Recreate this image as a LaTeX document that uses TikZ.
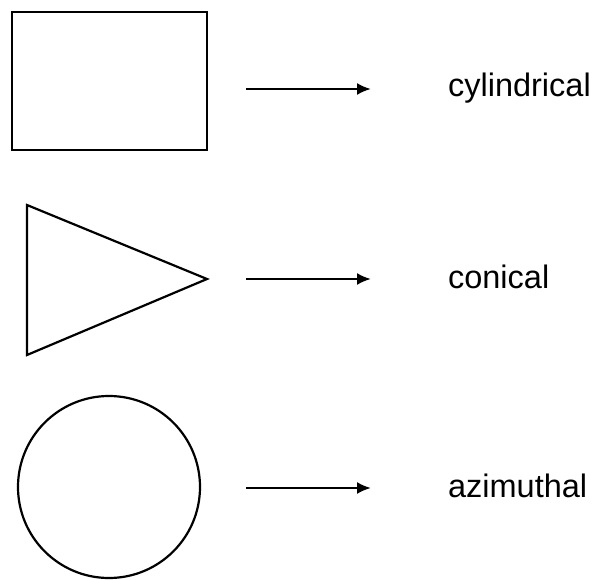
\documentclass[tikz,border=0pt]{standalone}
\usepackage{fontspec}
\setmainfont{Liberation Sans}
\usetikzlibrary{arrows.meta}
\begin{document}
\begin{tikzpicture}[x=1pt,y=-1pt,line width=2.2pt,>={Latex[length=14pt,width=12pt]}]
\tikzset{label/.style={anchor=base west,font=\fontsize{32.5}{36}\selectfont,inner sep=0pt}}
\useasboundingbox (0,0) rectangle (594,580);
% shapes
\draw (12,12) rectangle (207,150);
\draw (27,205)--(27,355)--(207,279)--cycle;
\draw (109,487) circle (91);
% arrows
\coordinate (c1) at (246,89);
\coordinate (d1) at (371,89);
\coordinate (c2) at (246,279);
\coordinate (d2) at (371,279);
\coordinate (c3) at (246,488);
\coordinate (d3) at (371,488);
\draw[->] (c1)--(d1);
\draw[->] (c2)--(d2);
\draw[->] (c3)--(d3);
% labels
\node[label] (cyl) at (447,97) {cylindrical};
\node[label] (con) at (447,288) {conical};
\node[label] (azi) at (447,497) {azimuthal};
\end{tikzpicture}
\end{document}
